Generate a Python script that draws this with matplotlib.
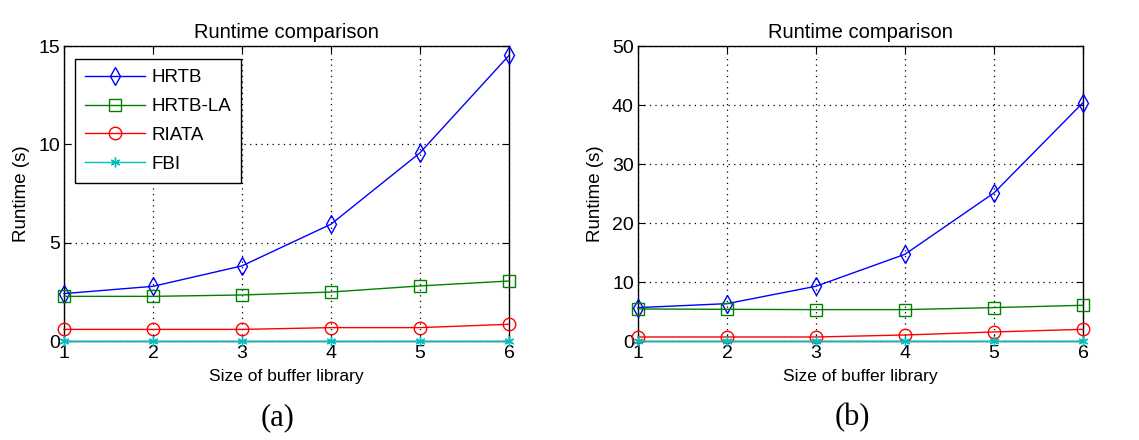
import matplotlib
matplotlib.use('Agg')
import matplotlib.pyplot as plt

# buffer library sizes
sizes = [1, 2, 3, 4, 5, 6]

# runtimes (s), case (a)
hrtb_a = [2.41, 2.78, 3.82, 5.94, 9.57, 14.52]
hrtb_la_a = [2.27, 2.27, 2.34, 2.49, 2.80, 3.05]
riata_a = [0.59, 0.59, 0.59, 0.68, 0.68, 0.85]
fbi_a = [0.02, 0.02, 0.02, 0.02, 0.02, 0.02]

# runtimes (s), case (b)
hrtb_b = [5.66, 6.33, 9.28, 14.7, 25.1, 40.4]
hrtb_la_b = [5.43, 5.37, 5.32, 5.32, 5.66, 6.05]
riata_b = [0.68, 0.68, 0.68, 1.02, 1.53, 1.98]
fbi_b = [0.05, 0.05, 0.05, 0.05, 0.05, 0.05]

names = ['HRTB', 'HRTB-LA', 'RIATA', 'FBI']
colors = ['#0000ff', '#008000', '#ff0000', '#00bfbf']
markers = ['d', 's', 'o', (6, 2, 0)]
msizes = [9, 9, 9, 7]

plt.rcParams['font.family'] = ['Liberation Sans', 'DejaVu Sans']

fig = plt.figure(figsize=(11.39, 4.4), dpi=100)
W, H = 1139.0, 440.0

def panel(left, series, ymax, yticks, label, legend):
    ax = fig.add_axes([left / W, 1 - 341 / H, 445 / W, 295 / H])
    for ys, name, c, m, ms in zip(series, names, colors, markers, msizes):
        ax.plot(sizes, ys, color=c, marker=m, markersize=ms,
                markerfacecolor='none', markeredgecolor=c,
                linewidth=1.0, markeredgewidth=1.0, label=name,
                clip_on=False, zorder=3)
    ax.set_xlim(1, 6)
    ax.set_ylim(0, ymax)
    ax.set_xticks(sizes)
    ax.set_yticks(yticks)
    ax.tick_params(direction='in', length=5, labelsize=14, pad=3,
                   top=True, right=True, colors='black')
    ax.grid(True, linestyle=(0, (1, 3.5)), color='black', linewidth=0.9)
    for s in ax.spines.values():
        s.set_linewidth(1.0)
    ax.set_title('Runtime comparison', fontsize=14.5, pad=6)
    ax.set_xlabel('Size of buffer library', fontsize=12.5, labelpad=5)
    ax.set_ylabel('Runtime (s)', fontsize=13.5, labelpad=6)
    if legend:
        leg = ax.legend(loc='upper left', bbox_to_anchor=(0.025, 0.956),
                        borderaxespad=0, fontsize=13.5, fancybox=False,
                        framealpha=1, edgecolor='black', handlelength=3.2,
                        labelspacing=0.62, borderpad=0.55,
                        handletextpad=0.3)
        leg.get_frame().set_linewidth(1.0)
        leg.set_zorder(5)
    fig.text((left + 214) / W, 1 - 418 / H, label, fontsize=22,
             family='Liberation Serif', ha='center', va='center')
    return ax

panel(64, [hrtb_a, hrtb_la_a, riata_a, fbi_a], 15, [0, 5, 10, 15], '(a)', True)
panel(638, [hrtb_b, hrtb_la_b, riata_b, fbi_b], 50, [0, 10, 20, 30, 40, 50], '(b)', False)

fig.savefig('out.png', dpi=100)
